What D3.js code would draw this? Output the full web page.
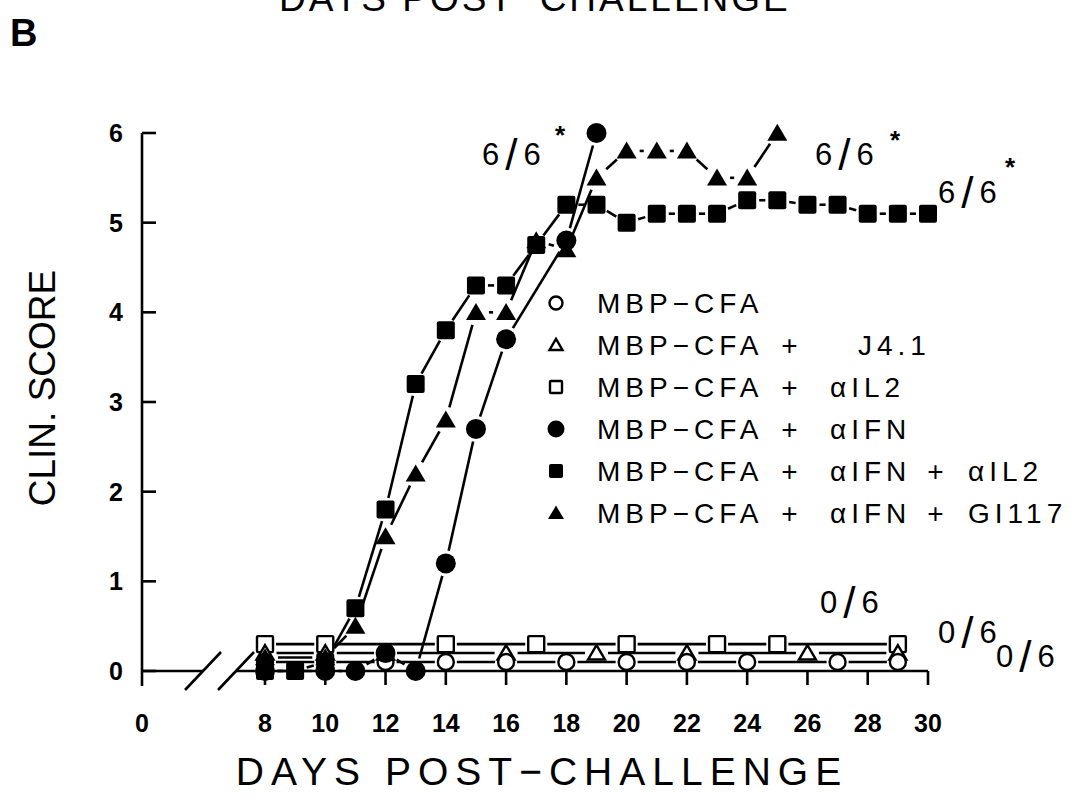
<!DOCTYPE html>
<html>
<head>
<meta charset="utf-8">
<script src="https://cdn.jsdelivr.net/npm/d3@7"></script>
<style>
  html, body { margin: 0; padding: 0; background: #fff; }
  svg { display: block; }
  text { font-family: "Liberation Sans", Arial, Helvetica, sans-serif; fill: #000; }
</style>
</head>
<body>
<svg id="chart" width="1079" height="804"></svg>
<script>
// Clinical score by day post-challenge, one series per treatment group
const xTickValues = [8, 10, 12, 14, 16, 18, 20, 22, 24, 26, 28, 30];
const yTickValues = [0, 1, 2, 3, 4, 5, 6];

const daysCFA = [8, 10, 12, 14, 16, 18, 20, 22, 24, 27, 29];
const scoreCFA = [0.1, 0.1, 0.1, 0.1, 0.1, 0.1, 0.1, 0.1, 0.1, 0.1, 0.1];

const daysJ41 = [8, 10, 12, 16, 19, 22, 26, 29];
const scoreJ41 = [0.2, 0.2, 0.2, 0.2, 0.2, 0.2, 0.2, 0.2];

const daysIL2 = [8, 10, 14, 17, 20, 23, 25, 29];
const scoreIL2 = [0.3, 0.3, 0.3, 0.3, 0.3, 0.3, 0.3, 0.3];

const daysIFN = [8, 10, 11, 12, 13, 14, 15, 16, 18, 19];
const scoreIFN = [0, 0, 0, 0.2, 0, 1.2, 2.7, 3.7, 4.8, 6.0];

const daysIFNIL2 = [8, 9, 10, 11, 12, 13, 14, 15, 16, 17, 18, 19, 20, 21, 22, 23, 24, 25, 26, 27, 28, 29, 30];
const scoreIFNIL2 = [0, 0, 0.1, 0.7, 1.8, 3.2, 3.8, 4.3, 4.3, 4.75, 5.2, 5.2, 5.0, 5.1, 5.1, 5.1, 5.25, 5.25, 5.2, 5.2, 5.1, 5.1, 5.1];

const daysGI = [8, 10, 11, 12, 13, 14, 15, 16, 17, 18, 19, 20, 21, 22, 23, 24, 25];
const scoreGI = [0.15, 0.15, 0.5, 1.5, 2.2, 2.8, 4.0, 4.0, 4.8, 4.7, 5.5, 5.8, 5.8, 5.8, 5.5, 5.5, 6.0];

const legendNames = [
  ["MBP−CFA"],
  ["MBP−CFA", "+", "J4.1"],
  ["MBP−CFA", "+", "αIL2"],
  ["MBP−CFA", "+", "αIFN"],
  ["MBP−CFA", "+", "αIFN", "+", "αIL2"],
  ["MBP−CFA", "+", "αIFN", "+", "GI117"]
];

// Incidence (sick / total) at the end of each curve
const incidenceSick = [6, 6, 6, 0, 0, 0];
const incidenceTotal = [6, 6, 6, 6, 6, 6];
const incidenceStar = [true, true, true, false, false, false];

const svg = d3.select("#chart");

// Broken x axis: day 0 sits at the y axis, the scale resumes at day 8
const x = d3.scaleLinear().domain([0, 8, 30]).range([142, 265, 928]);
const y = d3.scaleLinear().domain([0, 6]).range([671, 133]);

const ink = "#000";
const lw = 2.6;

// Panel letter and the bottom of the previous panel's axis title
svg.append("text").attr("x", 10).attr("y", 46)
  .style("font-size", "38px").style("font-weight", "bold").text("B");
svg.append("text").attr("x", 279).attr("y", 11)
  .style("font-size", "37px").style("letter-spacing", "3px").text("DAYS POST−CHALLENGE");

// Axes
const axisG = svg.append("g").attr("stroke", ink).attr("stroke-width", lw).attr("fill", "none");
axisG.append("line").attr("x1", x(0)).attr("x2", x(0)).attr("y1", y(6)).attr("y2", y(0) + 15);
axisG.append("line").attr("x1", x(0)).attr("x2", 203).attr("y1", y(0)).attr("y2", y(0));
axisG.append("line").attr("x1", 236).attr("x2", x(30)).attr("y1", y(0)).attr("y2", y(0));
[203, 236].forEach(cx => {
  axisG.append("line").attr("x1", cx - 18).attr("y1", y(0) + 19)
    .attr("x2", cx + 18).attr("y2", y(0) - 19);
});
xTickValues.forEach(d => {
  axisG.append("line").attr("x1", x(d)).attr("x2", x(d)).attr("y1", y(0)).attr("y2", y(0) + 14);
});
yTickValues.forEach(v => {
  axisG.append("line").attr("x1", x(0)).attr("x2", x(0) + 14).attr("y1", y(v)).attr("y2", y(v));
});

// Tick labels
svg.append("g").selectAll("text").data([0].concat(xTickValues)).join("text")
  .attr("x", d => x(d)).attr("y", y(0) + 61)
  .attr("text-anchor", "middle")
  .style("font-size", "25px").style("font-weight", "bold")
  .text(d => d);
svg.append("g").selectAll("text").data(yTickValues).join("text")
  .attr("x", 123).attr("y", v => y(v) + 9)
  .attr("text-anchor", "end")
  .style("font-size", "25px").style("font-weight", "bold")
  .text(v => v);

// Axis titles
svg.append("text")
  .attr("transform", "translate(55,388) rotate(-90)")
  .attr("text-anchor", "middle")
  .style("font-size", "37px")
  .text("CLIN. SCORE");
svg.append("text")
  .attr("x", 542).attr("y", 785)
  .attr("text-anchor", "middle")
  .style("font-size", "39px").style("letter-spacing", "7px")
  .text("DAYS POST−CHALLENGE");

// Marker shapes
function drawMarker(g, kind, cx, cy, s) {
  const filled = kind.startsWith("f");
  const fill = filled ? ink : "#fff";
  const sw = filled ? 0 : 2.4;
  let el;
  if (kind.endsWith("Circle")) {
    el = g.append("circle").attr("cx", cx).attr("cy", cy).attr("r", s);
  } else if (kind.endsWith("Square")) {
    el = g.append("rect").attr("x", cx - s).attr("y", cy - s)
      .attr("width", 2 * s).attr("height", 2 * s).attr("rx", filled ? 2 : 1);
  } else {
    const h = s * 1.7;
    el = g.append("path").attr("d",
      `M${cx},${cy - h * 0.55}L${cx + s},${cy + h * 0.45}L${cx - s},${cy + h * 0.45}Z`);
  }
  el.attr("fill", fill).attr("stroke", filled ? "none" : ink).attr("stroke-width", sw)
    .attr("stroke-linejoin", "miter");
}

const series = [
  { days: daysIL2, vals: scoreIL2, kind: "oSquare", size: 8 },
  { days: daysJ41, vals: scoreJ41, kind: "oTriangle", size: 8.5 },
  { days: daysCFA, vals: scoreCFA, kind: "oCircle", size: 8 },
  { days: daysIFNIL2, vals: scoreIFNIL2, kind: "fSquare", size: 9 },
  { days: daysGI, vals: scoreGI, kind: "fTriangle", size: 10 },
  { days: daysIFN, vals: scoreIFN, kind: "fCircle", size: 10 }
];

// Connecting lines stop short of each symbol, leaving a small gap
const gap = 3;
const linesG = svg.append("g").attr("stroke", ink).attr("stroke-width", lw).attr("stroke-linecap", "butt");
series.forEach(sr => {
  const pts = sr.days.map((d, i) => [x(d), y(sr.vals[i])]);
  for (let i = 0; i < pts.length - 1; i++) {
    const [x1, y1] = pts[i], [x2, y2] = pts[i + 1];
    const len = Math.hypot(x2 - x1, y2 - y1);
    const cut = sr.size + gap;
    if (len <= 2 * cut) continue;
    const ux = (x2 - x1) / len, uy = (y2 - y1) / len;
    linesG.append("line")
      .attr("x1", x1 + ux * cut).attr("y1", y1 + uy * cut)
      .attr("x2", x2 - ux * cut).attr("y2", y2 - uy * cut);
  }
});

const markG = svg.append("g");
series.forEach(sr => {
  sr.days.forEach((d, i) => drawMarker(markG, sr.kind, x(d), y(sr.vals[i]), sr.size));
});

// Legend
const legendKinds = [
  { kind: "oCircle", size: 6.5 },
  { kind: "oTriangle", size: 6.5 },
  { kind: "oSquare", size: 6 },
  { kind: "fCircle", size: 8.5 },
  { kind: "fSquare", size: 7 },
  { kind: "fTriangle", size: 8 }
];
const legY = d3.scaleLinear().domain([0, 5]).range([303, 513]);
const tokenX = [597, 792, 830, 938, 968];
legendNames.forEach((parts, i) => {
  const cy = legY(i);
  drawMarker(svg, legendKinds[i].kind, 556, cy, legendKinds[i].size);
  parts.forEach((p, j) => {
    let tx = tokenX[j];
    if (j === 2 && p === "J4.1") tx = 858;
    svg.append("text")
      .attr("x", tx).attr("y", cy + 10)
      .attr("text-anchor", p === "+" ? "middle" : "start")
      .style("font-size", "28px").style("letter-spacing", "5px")
      .text(p);
  });
});

// Incidence labels: digits with a tall slanted slash between them
const labelPos = [
  { x: 482, y: 165, sx: 560, sy: 144 },
  { x: 815, y: 165, sx: 895, sy: 149 },
  { x: 938, y: 203, sx: 1010, sy: 176 },
  { x: 820, y: 613 },
  { x: 938, y: 643 },
  { x: 996, y: 667 }
];
incidenceSick.forEach((n, i) => {
  const p = labelPos[i];
  const t = svg.append("text").attr("x", p.x).attr("y", p.y)
    .style("font-size", "31px").style("letter-spacing", "4px");
  t.append("tspan").text(n);
  t.append("tspan").attr("dx", 2).attr("dy", 5).style("font-size", "44px").text("/");
  t.append("tspan").attr("dx", 2).attr("dy", -5).text(incidenceTotal[i]);
  if (incidenceStar[i]) {
    svg.append("text").attr("x", p.sx).attr("y", p.sy)
      .attr("text-anchor", "middle")
      .style("font-size", "26px").style("font-weight", "bold")
      .text("*");
  }
});
</script>
</body>
</html>
